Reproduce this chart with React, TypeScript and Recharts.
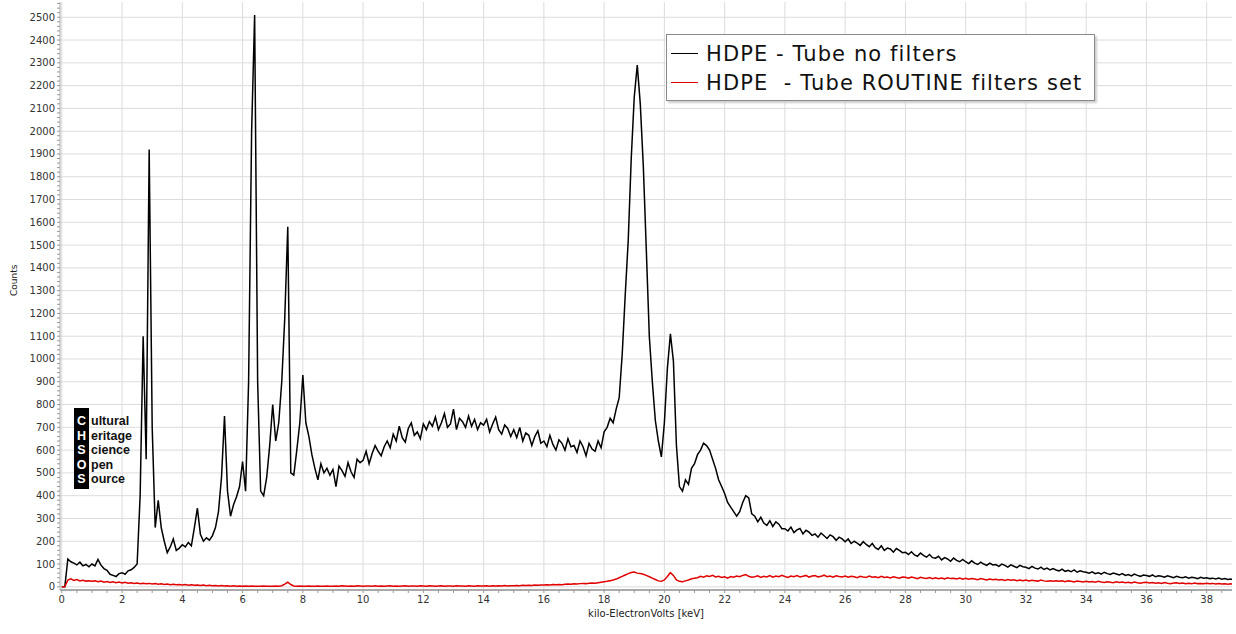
import React from 'react';
import { LineChart, Line, XAxis, YAxis, CartesianGrid, Legend } from 'recharts';

// energy grid, 0.1 keV per channel (0.0 .. 38.9)
const kev = Array.from({ length: 390 }, (_, i) => i / 10);

const noFilters = [
  0, 0, 122, 110, 104, 96, 108, 92, 98, 88,
  100, 92, 120, 95, 80, 72, 55, 50, 45, 58,
  62, 55, 70, 75, 85, 100, 400, 1100, 560, 1920,
  700, 260, 380, 260, 200, 150, 175, 210, 160, 170,
  185, 175, 195, 180, 260, 345, 230, 200, 215, 205,
  225, 260, 330, 480, 750, 420, 310, 360, 395, 440,
  550, 420, 900, 2000, 2510, 900, 420, 400, 480, 620,
  800, 640, 720, 900, 1180, 1580, 500, 490, 600, 720,
  930, 720, 660, 580, 520, 470, 540, 500, 520, 490,
  515, 440, 530, 510, 485, 545, 505, 480, 560, 545,
  555, 595, 540, 585, 620, 595, 575, 615, 640, 610,
  670, 640, 705, 655, 635, 695, 720, 665, 680, 650,
  715, 690, 725, 705, 745, 690, 720, 760, 700, 715,
  780, 690, 740, 725, 700, 750, 705, 735, 690, 720,
  710, 735, 680, 715, 745, 690, 670, 710, 695, 660,
  690, 655, 700, 640, 675, 665, 620, 660, 685, 630,
  640, 615, 665, 625, 600, 645, 630, 600, 650, 615,
  620, 590, 640, 615, 575, 630, 605, 595, 640, 610,
  680, 700, 740, 720, 780, 830, 1020, 1280, 1520, 1880,
  2150, 2290, 2120, 1850, 1480, 1100, 900, 730, 640, 570,
  720, 960, 1110, 990, 620, 440, 420, 470, 450, 520,
  540, 580, 600, 630, 620, 600, 560, 520, 470, 440,
  410, 370, 350, 330, 310, 330, 370, 400, 390, 320,
  310, 285, 305, 280, 270, 290, 265, 285, 275, 255,
  255, 245, 262, 238, 250, 256, 232, 248, 240, 226,
  232, 218, 236, 224, 212, 228, 220, 204, 218, 210,
  198, 210, 190, 200, 192, 182, 198, 186, 176, 190,
  172, 164, 180, 160, 170, 166, 152, 168, 160, 150,
  152, 142, 154, 140, 134, 148, 138, 130, 142, 128,
  126, 134, 118, 128, 122, 112, 126, 116, 110, 120,
  110, 102, 114, 104, 98, 108, 100, 94, 104, 96,
  98, 90, 100, 94, 86, 96, 90, 84, 94, 88,
  86, 80, 90, 82, 78, 86, 76, 82, 74, 80,
  74, 70, 78, 68, 72, 66, 74, 64, 70, 66,
  64, 60, 66, 58, 62, 56, 64, 58, 54, 60,
  56, 52, 58, 50, 54, 48, 56, 50, 46, 52,
  50, 46, 52, 44, 48, 46, 42, 48, 44, 40,
  46, 42, 40, 44, 38, 42, 40, 36, 42, 38,
  40, 36, 38, 34, 38, 33, 36, 32, 34, 30,
];

const routineFilters = [
  0, 0, 30, 35, 28, 32, 26, 29, 25, 27,
  24, 26, 22, 25, 20, 23, 19, 22, 18, 21,
  17, 20, 16, 18, 15, 17, 14, 16, 13, 15,
  12, 14, 11, 13, 10, 12, 9, 11, 9, 10,
  8, 10, 7, 9, 7, 8, 6, 8, 5, 7,
  5, 6, 4, 6, 4, 5, 3, 5, 3, 4,
  3, 4, 3, 4, 3, 3, 2, 4, 3, 3,
  3, 4, 3, 5, 12, 20, 10, 4, 3, 4,
  3, 3, 4, 3, 3, 4, 3, 3, 4, 3,
  3, 4, 3, 5, 4, 3, 4, 3, 5, 4,
  3, 4, 4, 3, 5, 3, 4, 3, 4, 5,
  3, 4, 3, 4, 5, 3, 4, 4, 3, 5,
  4, 3, 5, 4, 3, 4, 5, 3, 4, 4,
  3, 5, 4, 4, 3, 5, 4, 3, 5, 4,
  4, 5, 3, 5, 4, 5, 4, 6, 4, 5,
  5, 6, 5, 7, 6, 7, 6, 8, 7, 8,
  8, 9, 8, 10, 9, 10, 9, 11, 12, 11,
  13, 12, 14, 15, 14, 16, 17, 16, 18, 20,
  22, 24, 27, 30, 34, 40, 46, 52, 58, 63,
  65, 60, 58, 55, 50, 44, 38, 32, 26, 24,
  30, 45, 62, 50, 30, 24, 22, 26, 30, 35,
  38, 40, 46, 42, 48, 45, 50, 43, 46, 41,
  44, 38, 45, 42, 47, 44, 50, 54, 46, 42,
  44, 48, 41, 46, 43, 49, 42, 47, 44, 50,
  45, 41, 47, 44, 49, 43, 46, 50, 42, 47,
  49, 43, 46, 51, 44, 47, 42, 48, 45, 43,
  47, 42, 46, 44, 40, 46, 43, 41, 47, 42,
  44, 40, 46, 41, 43, 39, 44, 41, 38, 43,
  42, 38, 43, 40, 36, 42, 39, 37, 41, 36,
  40, 36, 39, 35, 40, 36, 37, 34, 38, 33,
  37, 33, 36, 34, 31, 36, 33, 30, 34, 31,
  33, 30, 32, 28, 32, 29, 31, 27, 30, 27,
  30, 26, 29, 27, 25, 30, 26, 24, 27, 24,
  27, 24, 26, 22, 26, 24, 21, 25, 23, 21,
  24, 21, 23, 20, 24, 21, 19, 22, 20, 18,
  22, 19, 21, 18, 20, 17, 21, 18, 16, 19,
  20, 17, 19, 16, 18, 15, 19, 16, 14, 17,
  18, 15, 17, 14, 16, 13, 17, 14, 15, 13,
  16, 13, 15, 12, 14, 12, 13, 11, 13, 12,
];

const xMajor = [0, 2, 4, 6, 8, 10, 12, 14, 16, 18, 20, 22, 24, 26, 28, 30, 32, 34, 36, 38];
const yMajor = [
  0, 100, 200, 300, 400, 500, 600, 700, 800, 900, 1000, 1100, 1200, 1300,
  1400, 1500, 1600, 1700, 1800, 1900, 2000, 2100, 2200, 2300, 2400, 2500,
];
const xMinor = Array.from({ length: 78 }, (_, i) => i * 0.5);
const yMinor = Array.from({ length: 129 }, (_, i) => i * 20);

const seriesNames = ['HDPE - Tube no filters', 'HDPE  - Tube ROUTINE filters set'];
const seriesColors = ['#000000', '#e00000'];
const logoCaps = ['C', 'H', 'S', 'O', 'S'];
const logoRest = ['ultural', 'eritage', 'cience', 'pen', 'ource'];

const data = kev.map((k, i) => ({ kev: k, a: noFilters[i], b: routineFilters[i] }));

const font = '"DejaVu Sans", Verdana, sans-serif';
const logoFont = '"Liberation Sans", Arial, sans-serif';

const XTick = ({ x, y, payload }: any) =>
  payload.value % 2 === 0 ? (
    <text x={x} y={y} dy={8} textAnchor="middle" fontSize={10} fill="#333" fontFamily={font}>
      {payload.value}
    </text>
  ) : (
    <g />
  );

const YTick = ({ x, y, payload }: any) =>
  payload.value % 100 === 0 ? (
    <text x={x} y={y} dy={3.5} textAnchor="end" fontSize={10} fill="#333" fontFamily={font}>
      {payload.value}
    </text>
  ) : (
    <g />
  );

const LegendBox = () => (
  <div
    style={{
      border: '1px solid #8a8a8a',
      background: '#fff',
      boxShadow: '2px 2px 2px #ccc',
      padding: '4px 12px 3px 4px',
      fontFamily: font,
      fontSize: 21,
      letterSpacing: 1.1,
      color: '#111',
    }}
  >
    {seriesNames.map((name, i) => (
      <div key={name} style={{ display: 'flex', alignItems: 'center', height: 29, whiteSpace: 'pre' }}>
        <span style={{ display: 'inline-block', width: 27, height: 0, borderTop: `1px solid ${seriesColors[i]}`, marginRight: 8 }} />
        {name}
      </div>
    ))}
  </div>
);

export default function App() {
  return (
    <div style={{ position: 'absolute', left: 0, top: 0, width: 1236, height: 634, background: '#fff' }}>
      <LineChart width={1236} height={634} data={data} margin={{ top: 2, right: 4, left: 0, bottom: 0 }}>
        <CartesianGrid stroke="#dcdcdc" horizontalValues={yMajor} verticalValues={xMajor} />
        <XAxis
          dataKey="kev"
          type="number"
          domain={[-0.06, 38.84]}
          allowDataOverflow
          ticks={xMinor}
          interval={0}
          tick={<XTick />}
          tickSize={3}
          tickMargin={2}
          height={44}
          axisLine={{ stroke: '#aaa', strokeWidth: 2 }}
          tickLine={{ stroke: '#999' }}
          label={{ value: 'kilo-ElectronVolts [keV]', position: 'insideBottom', offset: 17, fontSize: 10, fill: '#222', fontFamily: font }}
        />
        <YAxis
          type="number"
          domain={[-14, 2567]}
          allowDataOverflow
          ticks={yMinor}
          interval={0}
          tick={<YTick />}
          tickSize={3}
          tickMargin={2}
          width={60}
          axisLine={{ stroke: '#aaa' }}
          tickLine={{ stroke: '#999' }}
          label={{ value: 'Counts', angle: -90, position: 'insideLeft', offset: 14, fontSize: 9, fill: '#222', fontFamily: font }}
        />
        <Legend
          layout="horizontal"
          verticalAlign="middle"
          align="center"
          wrapperStyle={{ left: 666, top: 34, width: 'auto' }}
          content={<LegendBox />}
        />
        <Line type="linear" dataKey="a" name={seriesNames[0]} stroke={seriesColors[0]} strokeWidth={1.5} dot={false} isAnimationActive={false} />
        <Line type="linear" dataKey="b" name={seriesNames[1]} stroke={seriesColors[1]} strokeWidth={1.5} dot={false} isAnimationActive={false} />
      </LineChart>
      <div style={{ position: 'absolute', left: 74, top: 408, width: 15, height: 81, background: '#000', paddingTop: 6, boxSizing: 'border-box' }}>
        {logoCaps.map((c, i) => (
          <div key={i} style={{ height: 14.5, lineHeight: '14.5px', color: '#fff', fontFamily: logoFont, fontWeight: 'bold', fontSize: 12.5, textAlign: 'center' }}>
            {c}
          </div>
        ))}
      </div>
      <div style={{ position: 'absolute', left: 91, top: 414 }}>
        {logoRest.map((t, i) => (
          <div key={i} style={{ height: 14.5, lineHeight: '14.5px', color: '#111', fontFamily: logoFont, fontWeight: 'bold', fontSize: 12.5 }}>
            {t}
          </div>
        ))}
      </div>
    </div>
  );
}
